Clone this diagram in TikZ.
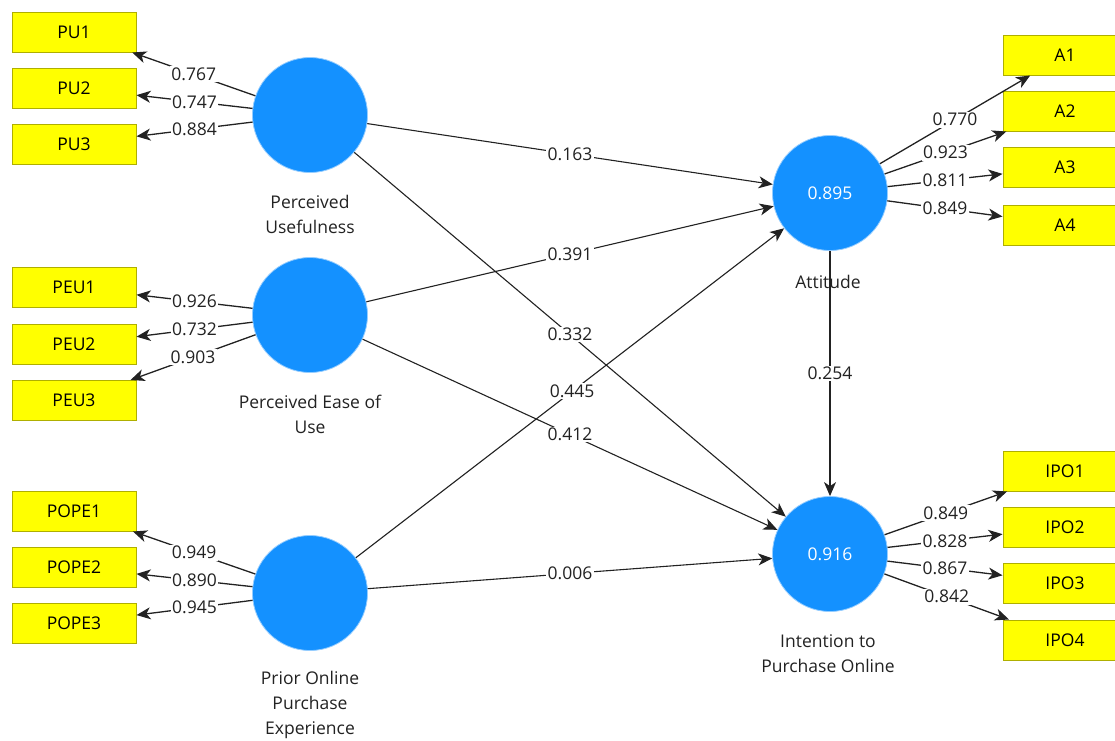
\documentclass[tikz,border=0pt]{standalone}
\usepackage{fontspec}
\setmainfont{Open Sans}
\usetikzlibrary{arrows.meta}
\definecolor{lv}{RGB}{20,145,255}
\definecolor{mv}{RGB}{255,255,0}
\definecolor{mvb}{RGB}{175,175,0}
\definecolor{txt}{RGB}{34,34,34}
\begin{document}
\begin{tikzpicture}[x=1pt,y=-1pt,
  lat/.style={circle,fill=lv,draw=lv!45!white,line width=0.8pt,minimum size=115pt,inner sep=0pt,text=white,font=\fontsize{17.5}{20}\selectfont},
  ind/.style={rectangle,fill=mv,draw=mvb,line width=1pt,minimum width=124pt,minimum height=40pt,inner sep=0pt,text=black,font=\fontsize{17.5}{20}\selectfont},
  lab/.style={align=center,text=txt,font=\fontsize{17.5}{25}\selectfont},
  ld/.style={-{Stealth[length=14pt,width=12pt,inset=4pt]},line width=1.3pt,draw=txt},
  pth/.style={-{Stealth[length=14pt,width=12pt,inset=4pt]},line width=1.1pt,draw=txt},
  num/.style={fill=white,inner sep=1.5pt,text=txt,font=\fontsize{17.5}{20}\selectfont}]
\useasboundingbox (0,0) rectangle (1115,740);
\clip (0,0) rectangle (1115,740);
% latent variables
\node[lat] (PU) at (310,115) {};
\node[lat] (PEU) at (310,315) {};
\node[lat] (POPE) at (310,593) {};
\node[lat] (ATT) at (830,193) {0.895};
\node[lat] (IPO) at (830,554) {0.916};
% latent labels
\node[lab] (lPU) at (310,214) {Perceived\\Usefulness};
\node[lab] (lPEU) at (310,414) {Perceived Ease of\\Use};
\node[lab] (lPOPE) at (310,705) {Prior Online\\Purchase\\Experience};
\node[lab] (lATT) at (828,282) {Attitude};
\node[lab] (lIPO) at (828,654) {Intention to\\Purchase Online};
% indicators
\node[ind] (PU1) at (74,32) {PU1};
\node[ind] (PU2) at (74,88) {PU2};
\node[ind] (PU3) at (74,144) {PU3};
\node[ind] (PEU1) at (74,287.5) {PEU1};
\node[ind] (PEU2) at (74,344.5) {PEU2};
\node[ind] (PEU3) at (74,400.5) {PEU3};
\node[ind] (POPE1) at (74,511) {POPE1};
\node[ind] (POPE2) at (74,567) {POPE2};
\node[ind] (POPE3) at (74,623) {POPE3};
\node[ind] (A1) at (1065,55) {A1};
\node[ind] (A2) at (1065,111) {A2};
\node[ind] (A3) at (1065,167) {A3};
\node[ind] (A4) at (1065,225) {A4};
\node[ind] (IPO1) at (1065,471) {IPO1};
\node[ind] (IPO2) at (1065,527) {IPO2};
\node[ind] (IPO3) at (1065,583) {IPO3};
\node[ind] (IPO4) at (1065,640) {IPO4};
% loadings
\draw[ld] (PU) -- node[num]{0.767} (PU1);
\draw[ld] (PU) -- node[num]{0.747} (PU2);
\draw[ld] (PU) -- node[num]{0.884} (PU3);
\draw[ld] (PEU) -- node[num]{0.926} (PEU1);
\draw[ld] (PEU) -- node[num]{0.732} (PEU2);
\draw[ld] (PEU) -- node[num]{0.903} (PEU3);
\draw[ld] (POPE) -- node[num]{0.949} (POPE1);
\draw[ld] (POPE) -- node[num]{0.890} (POPE2);
\draw[ld] (POPE) -- node[num]{0.945} (POPE3);
\draw[ld] (ATT) -- node[num]{0.770} (A1);
\draw[ld] (ATT) -- node[num]{0.923} (A2);
\draw[ld] (ATT) -- node[num]{0.811} (A3);
\draw[ld] (ATT) -- node[num]{0.849} (A4);
\draw[ld] (IPO) -- node[num]{0.849} (IPO1);
\draw[ld] (IPO) -- node[num]{0.828} (IPO2);
\draw[ld] (IPO) -- node[num]{0.867} (IPO3);
\draw[ld] (IPO) -- node[num]{0.842} (IPO4);
% structural paths
\draw[pth] (PU) -- node[num]{0.163} (ATT);
\draw[pth] (PEU) -- node[num]{0.391} (ATT);
\draw[pth] (POPE) -- node[num,pos=0.505]{0.445} (ATT);
\draw[pth] (PU) -- node[num]{0.332} (IPO);
\draw[pth] (PEU) -- node[num]{0.412} (IPO);
\draw[pth] (POPE) -- node[num]{0.006} (IPO);
\draw[pth] (ATT) -- node[num]{0.254} (IPO);
\end{tikzpicture}
\end{document}
